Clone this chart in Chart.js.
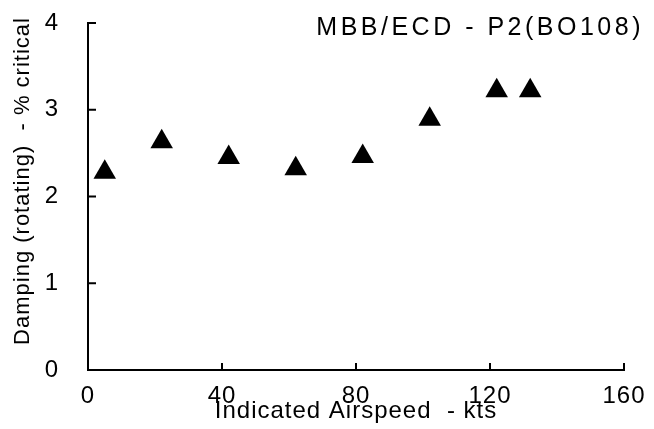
<!DOCTYPE html>
<html>
<head>
<meta charset="utf-8">
<script src="https://cdn.jsdelivr.net/npm/chart.js@4"></script>
<style>
  body { margin: 0; background: #fff; }
  #wrap { width: 654px; height: 429px; }
</style>
</head>
<body>
<div id="wrap"><canvas id="dampingChart"></canvas></div>
<script>
'use strict';

// Werte
const chartTitle = 'MBB/ECD - P2(BO108)';
const xAxisTitle = 'Indicated Airspeed  - kts';
const yAxisTitle = 'Damping (rotating)  - % critical';
const airspeedKts = [5, 22, 42, 62, 82, 102, 122, 132];
const dampingPct = [2.28, 2.63, 2.45, 2.32, 2.46, 2.89, 3.22, 3.22];
const xTickValues = [0, 40, 80, 120, 160];
const yTickValues = [0, 1, 2, 3, 4];

const FONT = '"Liberation Sans", Arial, sans-serif';

// Striche nach innen, y-Titel und Titel oben rechts
const decorations = {
  id: 'decorations',
  beforeDraw(chart) {
    chart.ctx.letterSpacing = '1px';
  },
  afterDraw(chart) {
    const { ctx, scales: { x, y } } = chart;
    const x0 = x.getPixelForValue(0);
    const y0 = y.getPixelForValue(0);
    ctx.save();
    ctx.strokeStyle = '#000';
    ctx.lineWidth = 2;
    ctx.beginPath();
    yTickValues.slice(1).forEach(v => {
      const py = y.getPixelForValue(v);
      ctx.moveTo(x0, py);
      ctx.lineTo(x0 + 8, py);
    });
    xTickValues.slice(1).forEach(v => {
      const px = x.getPixelForValue(v);
      ctx.moveTo(px, y0);
      ctx.lineTo(px, y0 - 7);
    });
    ctx.stroke();

    ctx.fillStyle = '#000';
    ctx.textBaseline = 'middle';

    // y-Achsentitel
    ctx.save();
    ctx.letterSpacing = '1px';
    ctx.font = `22px ${FONT}`;
    ctx.textAlign = 'center';
    ctx.translate(23, 181);
    ctx.rotate(-Math.PI / 2);
    ctx.fillText(yAxisTitle, 0, 0);
    ctx.restore();

    ctx.letterSpacing = '3.5px';
    ctx.font = `25px ${FONT}`;
    ctx.textAlign = 'right';
    ctx.fillText(chartTitle, 644, 28);
    ctx.restore();
  },
};

const ctx = document.getElementById('dampingChart').getContext('2d');
new Chart(ctx, {
  type: 'scatter',
  data: {
    datasets: [
      {
        data: airspeedKts.map((v, i) => ({ x: v, y: dampingPct[i] })),
        pointStyle: 'triangle',
        pointRadius: 13,
        pointHoverRadius: 13,
        backgroundColor: '#000',
        borderColor: '#000',
        borderWidth: 0,
        clip: false,
      },
    ],
  },
  options: {
    responsive: true,
    maintainAspectRatio: false,
    animation: false,
    layout: { padding: { left: 0, right: 30, top: 23, bottom: 0 } },
    plugins: {
      legend: { display: false },
      tooltip: { enabled: false },
    },
    scales: {
      x: {
        type: 'linear',
        min: 0,
        max: 160,
        afterBuildTicks: scale => {
          scale.ticks = xTickValues.map(v => ({ value: v }));
        },
        afterFit: scale => {
          scale.height = 59;
        },
        grid: { display: false },
        border: { display: true, color: '#000', width: 2 },
        ticks: { color: '#000', font: { family: FONT, size: 24 }, padding: 4 },
        title: {
          display: true,
          text: xAxisTitle,
          color: '#000',
          font: { family: FONT, size: 24 },
          padding: { top: 0, bottom: 3 },
        },
      },
      y: {
        type: 'linear',
        min: 0,
        max: 4,
        afterBuildTicks: scale => {
          scale.ticks = yTickValues.map(v => ({ value: v }));
        },
        afterFit: scale => {
          scale.width = 88;
          scale.paddingTop = 0;
          scale.paddingBottom = 0;
        },
        grid: { display: false },
        border: { display: true, color: '#000', width: 2 },
        ticks: { color: '#000', font: { family: FONT, size: 24 }, padding: 21 },
        title: { display: false },
      },
    },
  },
  plugins: [decorations],
});
</script>
</body>
</html>
